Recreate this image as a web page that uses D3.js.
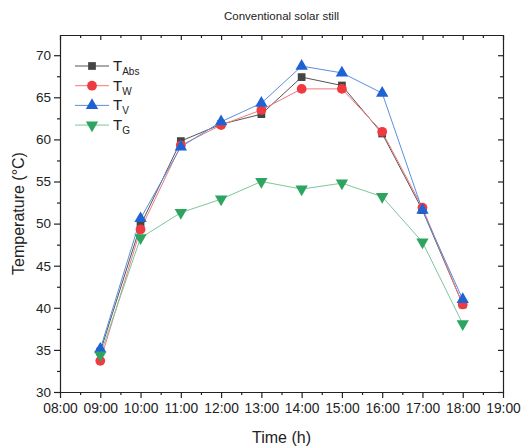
<!DOCTYPE html>
<html>
<head>
<meta charset="utf-8">
<script src="https://cdn.jsdelivr.net/npm/d3@7"></script>
<style>
  body { margin: 0; background: #fff; }
  text { font-family: Arial, "Liberation Sans", sans-serif; fill: #222; }
</style>
</head>
<body>
<svg width="523" height="448"></svg>
<script>
  // hours of the day
  const hours = [9, 10, 11, 12, 13, 14, 15, 16, 17, 18];

  // temperatures (°C)
  const tAbs = [34.8, 49.8, 59.8, 61.8, 63.0, 67.4, 66.4, 60.7, 51.6, 40.4];
  const tW   = [33.7, 49.3, 59.3, 61.7, 63.5, 66.0, 66.0, 60.9, 51.9, 40.4];
  const tV   = [35.1, 50.6, 59.1, 62.1, 64.3, 68.7, 67.9, 65.5, 51.6, 41.0];
  const tG   = [34.4, 48.3, 51.3, 52.9, 55.0, 54.1, 54.8, 53.2, 47.8, 38.1];

  const xTicks = d3.range(8, 20);
  const yTicks = [30, 35, 40, 45, 50, 55, 60, 65, 70];

  const series = [
    { sub: 'Abs', values: tAbs, color: '#454545', line: '#555', symbol: d3.symbolSquare, size: 60, rot: 0 },
    { sub: 'W', values: tW, color: '#ef3a3f', line: '#f07a7c', symbol: d3.symbolCircle, size: 75, rot: 0 },
    { sub: 'V', values: tV, color: '#1f62d4', line: '#5b8ee0', symbol: d3.symbolTriangle, size: 66, rot: 0 },
    { sub: 'G', values: tG, color: '#2da561', line: '#7cc79a', symbol: d3.symbolTriangle, size: 66, rot: 180 }
  ];

  const svg = d3.select('svg');
  const margin = { left: 60, right: 20, top: 35, bottom: 56 };
  const width = 523 - margin.left - margin.right;
  const height = 448 - margin.top - margin.bottom;

  const x = d3.scaleLinear().domain([8, 19]).range([0, width]);
  const y = d3.scaleLinear().domain([30, 72.4]).range([height, 0]);

  const g = svg.append('g').attr('transform', `translate(${margin.left},${margin.top})`);

  const fmt = h => (h < 10 ? '0' : '') + h + ':00';
  const minorX = d3.range(8.5, 19, 1);
  const minorY = d3.range(32.5, 72.4, 5);

  // bottom axis
  const xAxis = g.append('g').attr('transform', `translate(0,${height})`)
    .call(d3.axisBottom(x).tickValues(xTicks).tickFormat(fmt).tickSize(6).tickSizeOuter(0));
  xAxis.selectAll('text').attr('font-size', 13.8).attr('dy', '0.9em');
  g.append('g').attr('transform', `translate(0,${height})`)
    .call(d3.axisBottom(x).tickValues(minorX).tickFormat('').tickSize(3).tickSizeOuter(0))
    .select('.domain').remove();

  // left axis
  const yAxis = g.append('g')
    .call(d3.axisLeft(y).tickValues(yTicks).tickSize(6).tickSizeOuter(0));
  yAxis.selectAll('text').attr('font-size', 13.5);
  g.append('g')
    .call(d3.axisLeft(y).tickValues(minorY).tickFormat('').tickSize(3).tickSizeOuter(0))
    .select('.domain').remove();

  // top and right mirror axes, ticks inward
  g.append('g')
    .call(d3.axisBottom(x).tickValues(xTicks).tickFormat('').tickSize(5).tickSizeOuter(0));
  g.append('g')
    .call(d3.axisBottom(x).tickValues(minorX).tickFormat('').tickSize(3).tickSizeOuter(0))
    .select('.domain').remove();
  g.append('g').attr('transform', `translate(${width},0)`)
    .call(d3.axisLeft(y).tickValues(yTicks).tickFormat('').tickSize(5).tickSizeOuter(0));
  g.append('g').attr('transform', `translate(${width},0)`)
    .call(d3.axisLeft(y).tickValues(minorY).tickFormat('').tickSize(3).tickSizeOuter(0))
    .select('.domain').remove();

  g.selectAll('.domain, .tick line').attr('stroke', '#222').attr('stroke-width', 1.2);

  // lines and markers
  const line = d3.line().x((d, i) => x(hours[i])).y(d => y(d));
  series.forEach(s => {
    g.append('path').datum(s.values)
      .attr('d', line).attr('fill', 'none')
      .attr('stroke', s.line).attr('stroke-width', 1);
  });
  series.forEach(s => {
    g.selectAll(null).data(s.values).enter().append('path')
      .attr('d', d3.symbol().type(s.symbol).size(s.size))
      .attr('transform', (d, i) => `translate(${x(hours[i])},${y(d)}) rotate(${s.rot})`)
      .attr('fill', s.color);
  });

  // legend
  const legend = g.append('g').attr('transform', 'translate(15,31)');
  series.forEach((s, i) => {
    const row = legend.append('g').attr('transform', `translate(0,${i * 19.7})`);
    row.append('line').attr('x1', 0).attr('x2', 34).attr('stroke', s.line).attr('stroke-width', 1);
    row.append('path')
      .attr('d', d3.symbol().type(s.symbol).size(s.size))
      .attr('transform', `translate(17,0) rotate(${s.rot})`)
      .attr('fill', s.color);
    const t = row.append('text').attr('x', 38).attr('y', 5).attr('font-size', 15);
    t.append('tspan').text('T');
    t.append('tspan').attr('font-size', 10).attr('dy', 4).text(s.sub);
  });

  // titles
  svg.append('text').attr('x', margin.left + width / 2).attr('y', 20)
    .attr('text-anchor', 'middle').attr('font-size', 11.5).text('Conventional solar still');
  svg.append('text').attr('x', margin.left + width / 2).attr('y', 443)
    .attr('text-anchor', 'middle').attr('font-size', 16).text('Time (h)');
  svg.append('text').attr('transform', `translate(24,${margin.top + height / 2}) rotate(-90)`)
    .attr('text-anchor', 'middle').attr('font-size', 16).text('Temperature (°C)');
</script>
</body>
</html>
